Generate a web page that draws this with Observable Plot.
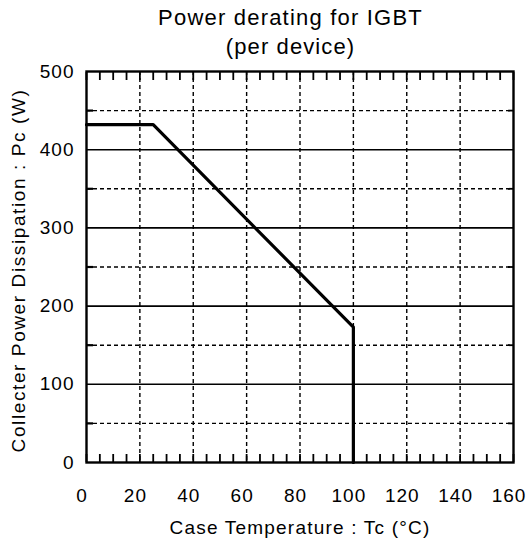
<!DOCTYPE html>
<html>
<head>
<meta charset="utf-8">
<script src="https://cdn.jsdelivr.net/npm/d3@7"></script>
<script src="https://cdn.jsdelivr.net/npm/@observablehq/plot@0.6"></script>
<style>
  html, body { margin: 0; padding: 0; background: #fff; }
  svg { font-family: "Liberation Sans", Arial, sans-serif; }
</style>
</head>
<body>
<div id="chart"></div>
<script>
// Data: power derating curve (case temperature °C, collector power dissipation W)
const caseTemp = [0, 25, 100, 100];
const powerW   = [432, 432, 173, 0];
const xTicks = [0, 20, 40, 60, 80, 100, 120, 140, 160];
const yTicks = [0, 100, 200, 300, 400, 500];
const xMinorTicks = d3.range(0, 161, 5);
const yMinorTicks = [50, 150, 250, 350, 450];
const xGrid = [20, 40, 60, 80, 100, 120, 140];
const ySolidGrid = [100, 200, 300, 400];
const yDashGrid = [50, 150, 250, 350, 450];
const titleLines = ["Power derating for IGBT", "(per device)"];
const xLabel = "Case Temperature : Tc (°C)";
const yLabel = "Collecter Power Dissipation : Pc (W)";

const curve = caseTemp.map((t, i) => ({t, p: powerW[i]}));

const chart = Plot.plot({
  width: 529,
  height: 544,
  marginLeft: 86,
  marginRight: 16,
  marginTop: 71,
  marginBottom: 82,
  style: {fontSize: "19px", fontFamily: "'Liberation Sans', Arial, sans-serif", color: "#000", background: "#fff"},
  x: {domain: [0, 160]},
  y: {domain: [0, 500]},
  marks: [
    Plot.ruleX(xGrid, {stroke: "#000", strokeWidth: 1.4, strokeDasharray: "4,3", strokeOpacity: 1}),
    Plot.ruleY(yDashGrid, {stroke: "#000", strokeWidth: 1.4, strokeDasharray: "4,3", strokeOpacity: 1}),
    Plot.ruleY(ySolidGrid, {stroke: "#000", strokeWidth: 1.6, strokeOpacity: 1}),
    // inward ticks
    Plot.axisX({anchor: "bottom", ticks: xMinorTicks, tickSize: -8, text: null, label: null, strokeWidth: 1.8, strokeOpacity: 1}),
    Plot.axisX({anchor: "top", ticks: xMinorTicks, tickSize: -8, text: null, label: null, strokeWidth: 1.8, strokeOpacity: 1}),
    Plot.axisY({anchor: "left", ticks: yMinorTicks, tickSize: -7, text: null, label: null, strokeWidth: 2.2, strokeOpacity: 1}),
    Plot.axisY({anchor: "right", ticks: yMinorTicks, tickSize: -6, text: null, label: null, strokeWidth: 1.8, strokeOpacity: 1}),
    // tick labels
    Plot.axisX({anchor: "bottom", ticks: xTicks, tickSize: 0, tickPadding: 26, dx: -4.5, label: null, fontSize: 19}),
    Plot.axisY({anchor: "left", ticks: yTicks, tickSize: 0, tickPadding: 12, label: null, fontSize: 19}),
    Plot.frame({stroke: "#000", strokeWidth: 2.4}),
    Plot.line(curve, {x: "t", y: "p", stroke: "#000", strokeWidth: 3.2}),
    // titles and axis labels
    Plot.text([titleLines[0]], {frameAnchor: "top", lineAnchor: "middle", dx: -9.5, dy: -54, text: d => d, fontSize: 22}),
    Plot.text([titleLines[1]], {frameAnchor: "top", lineAnchor: "middle", dx: -9.5, dy: -25, text: d => d, fontSize: 22}),
    Plot.text([xLabel], {frameAnchor: "bottom", lineAnchor: "middle", dy: 65, text: d => d, fontSize: 19}),
    Plot.text([yLabel], {frameAnchor: "left", lineAnchor: "middle", dx: -67.5, dy: 3.5, rotate: -90, textAnchor: "middle", text: d => d, fontSize: 19})
  ]
});
// letter spacing as in the reference
const spacing = new Map([
  [titleLines[0], "1.2px"], [titleLines[1], "1.1px"],
  [xLabel, "1.2px"], [yLabel, "1.6px"]
]);
d3.select(chart).selectAll("text").each(function() {
  const t = this.textContent;
  if (spacing.has(t)) this.style.letterSpacing = spacing.get(t);
  else if (/^\d+$/.test(t)) this.style.letterSpacing = "1px";
});
document.getElementById("chart").append(chart);
</script>
</body>
</html>
